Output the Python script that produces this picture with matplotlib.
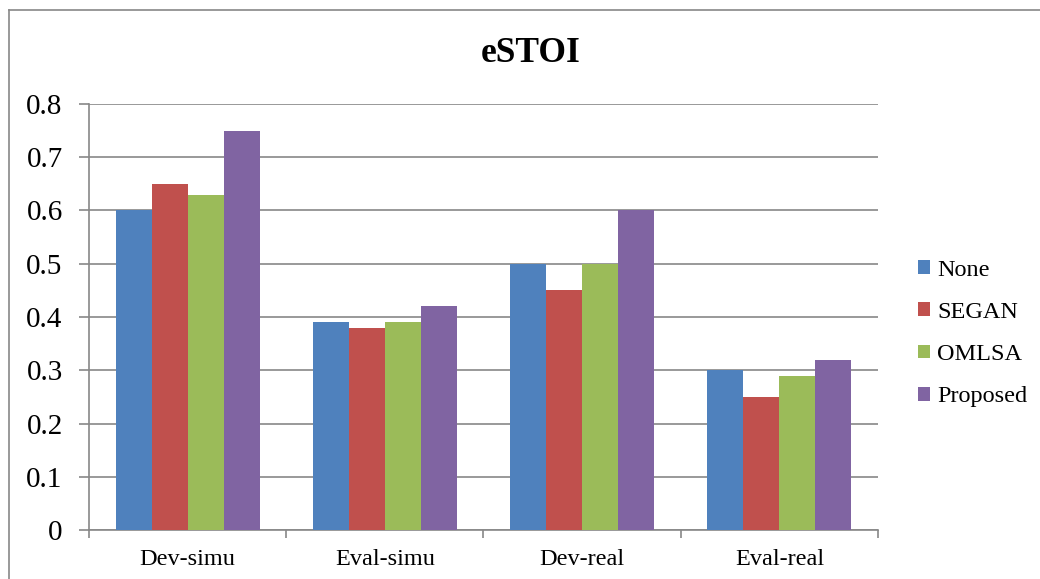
import matplotlib
matplotlib.use("Agg")
import matplotlib.pyplot as plt
import numpy as np
from matplotlib.patches import Patch
from matplotlib.lines import Line2D

plt.rcParams['font.family'] = ['Liberation Serif', 'DejaVu Serif']

# eSTOI scores per test set and method
categories = ['Dev-simu', 'Eval-simu', 'Dev-real', 'Eval-real']
methods = ['None', 'SEGAN', 'OMLSA', 'Proposed']
none_vals = [0.60, 0.39, 0.50, 0.30]
segan_vals = [0.65, 0.38, 0.45, 0.25]
omlsa_vals = [0.63, 0.39, 0.50, 0.29]
proposed_vals = [0.75, 0.42, 0.60, 0.32]
yticks = [0, 0.1, 0.2, 0.3, 0.4, 0.5, 0.6, 0.7, 0.8]

series = [none_vals, segan_vals, omlsa_vals, proposed_vals]
colors = ['#4F81BD', '#C0504D', '#9BBB59', '#8064A2']
grid_col = '#888888'

fig = plt.figure(figsize=(10.4, 5.79), dpi=100)
ax = fig.add_axes([0.0856, 0.0846, 0.7586, 0.7358])

centers = np.arange(len(categories)) + 0.5
bw = 0.1825
for i, (vals, c) in enumerate(zip(series, colors)):
    ax.bar(centers + (i - 1.5) * bw, vals, width=bw, color=c, zorder=3)

ax.set_xlim(0, len(categories))
ax.set_ylim(0, 0.8)
ax.set_yticks(yticks)
ax.set_yticklabels(['0' if v == 0 else f'{v:.1f}' for v in yticks], fontsize=21)
ax.yaxis.grid(True, color=grid_col, linewidth=1.2, zorder=0)

# category boundaries get ticks, names sit between them
ax.set_xticks(np.arange(len(categories) + 1))
ax.set_xticklabels([])
ax.set_xticks(centers, minor=True)
ax.set_xticklabels(categories, minor=True, fontsize=17.5)
ax.tick_params(axis='x', which='minor', length=0, pad=14)
ax.tick_params(axis='x', which='major', length=6, width=1.2, color=grid_col)
ax.tick_params(axis='y', length=7, width=1.2, color=grid_col, pad=12)

for s in ['top', 'right']:
    ax.spines[s].set_visible(False)
for s in ['left', 'bottom']:
    ax.spines[s].set_color(grid_col)
    ax.spines[s].set_linewidth(1.2)

fig.text(0.51, 0.893, 'eSTOI', ha='center', va='baseline',
         fontsize=25.5, fontweight='bold')

handles = [Patch(facecolor=c, label=m) for c, m in zip(colors, methods)]
fig.legend(handles=handles, loc='center left', bbox_to_anchor=(0.883, 0.424),
           frameon=False, fontsize=17.5, handlelength=0.5, handleheight=0.5,
           handletextpad=0.27, labelspacing=0.87, borderaxespad=0,
           borderpad=0)

# chart frame
fig.add_artist(Line2D([9 / 1040, 1], [1 - 10 / 579, 1 - 10 / 579],
                      transform=fig.transFigure, color=grid_col, linewidth=1.2))
fig.add_artist(Line2D([9 / 1040, 9 / 1040], [0, 1 - 10 / 579],
                      transform=fig.transFigure, color=grid_col, linewidth=1.2))

fig.savefig('out.png', dpi=100)
